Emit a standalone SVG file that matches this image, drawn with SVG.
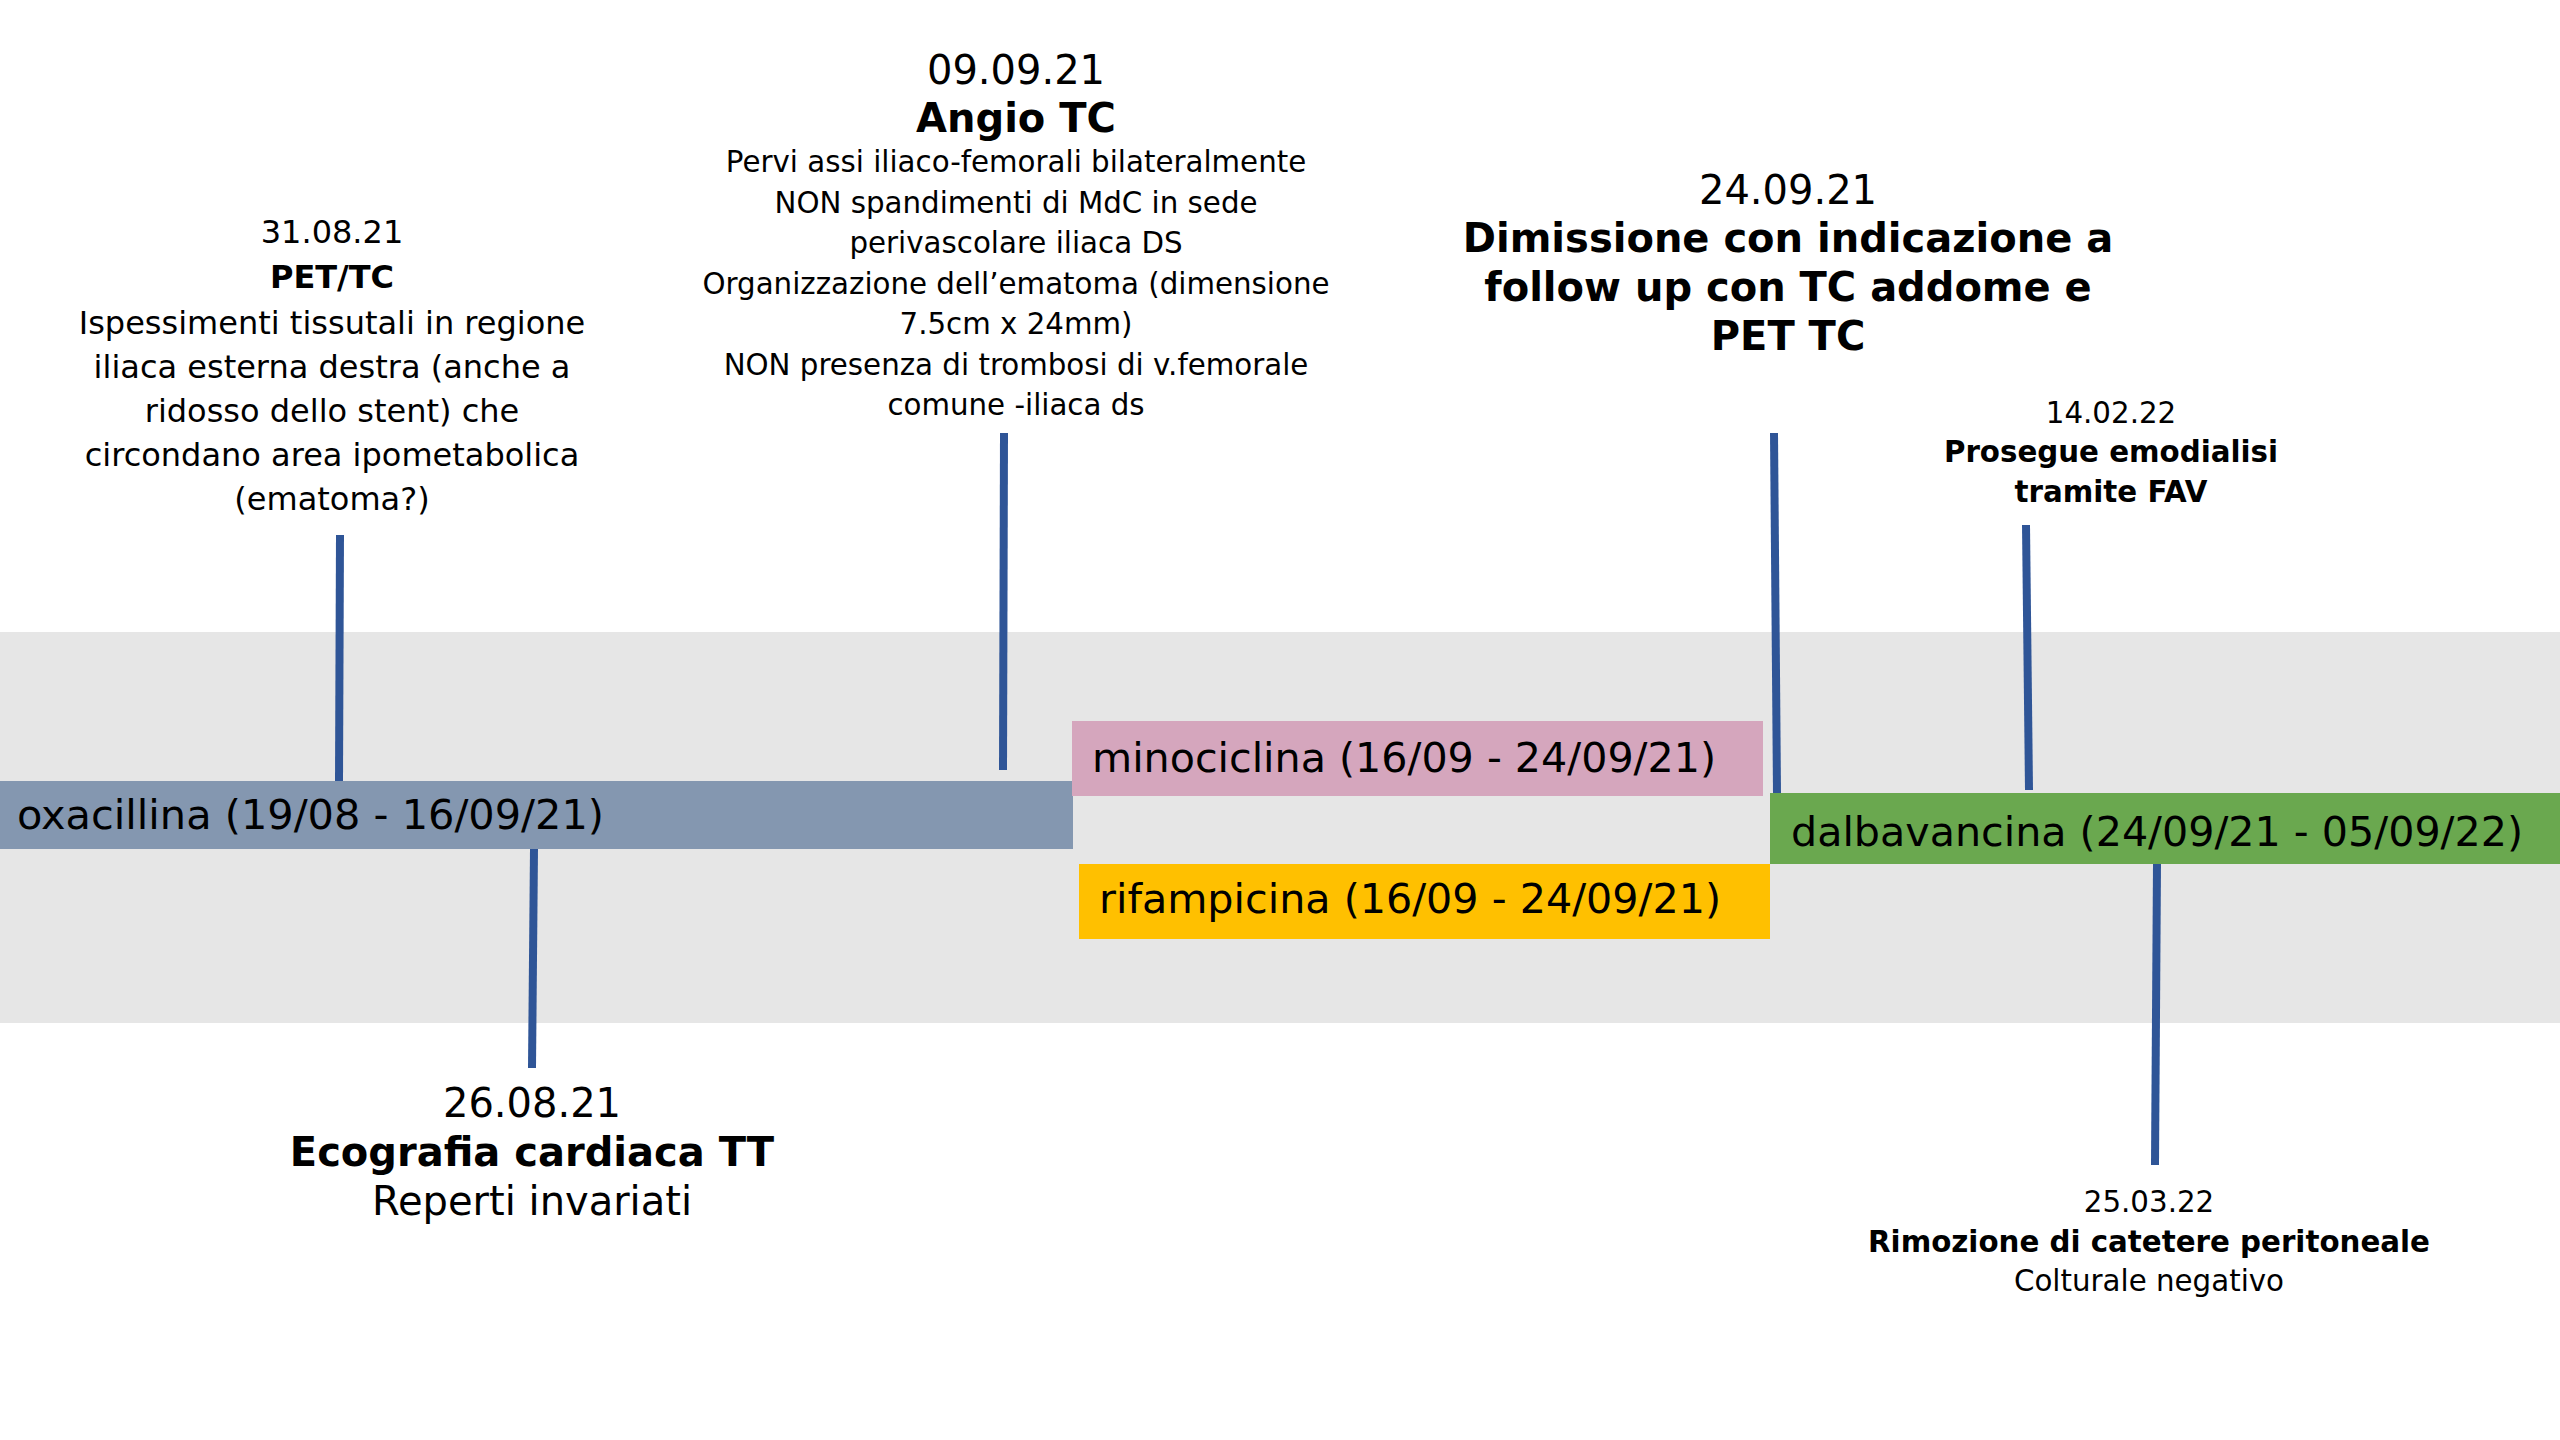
<svg xmlns="http://www.w3.org/2000/svg" width="2560" height="1440" viewBox="0 0 2560 1440">
<style>
text { font-family: "DejaVu Sans", Verdana, sans-serif; fill: #000000; }
.c { text-anchor: middle; }
.b { font-weight: bold; }
.s32 { font-size: 32px; }
.s40 { font-size: 40px; }
.s29 { font-size: 29.3px; }
.bar { font-size: 41.5px; }
.conn { stroke: #2F5597; stroke-width: 8; fill: none; }
</style>
<rect x="0" y="0" width="2560" height="1440" fill="#FFFFFF"/>
<g id="band">
<rect x="0" y="632" width="2560" height="391" fill="#E6E6E6"/>
</g>
<g id="connectors">
<line class="conn" x1="340" y1="535" x2="339" y2="781"/>
<line class="conn" x1="1004" y1="433" x2="1003" y2="770"/>
<line class="conn" x1="1774" y1="433" x2="1777" y2="793"/>
<line class="conn" x1="2026" y1="525" x2="2029" y2="790"/>
<line class="conn" x1="534" y1="849" x2="532" y2="1068"/>
<line class="conn" x1="2157" y1="864" x2="2155" y2="1165"/>
</g>
<g id="oxacillina">
<rect x="0" y="781" width="1073" height="68" fill="#8497B0"/>
<text class="bar" x="17" y="829" textLength="587" lengthAdjust="spacingAndGlyphs">oxacillina (19/08 - 16/09/21)</text>
</g>
<g id="minociclina">
<rect x="1072" y="721" width="691" height="75" fill="#D5A6BD"/>
<text class="bar" x="1092" y="772" textLength="624" lengthAdjust="spacingAndGlyphs">minociclina (16/09 - 24/09/21)</text>
</g>
<g id="rifampicina">
<rect x="1079" y="864" width="691" height="75" fill="#FFC000"/>
<text class="bar" x="1099" y="913" textLength="622" lengthAdjust="spacingAndGlyphs">rifampicina (16/09 - 24/09/21)</text>
</g>
<g id="dalbavancina">
<rect x="1770" y="793" width="790" height="71" fill="#6AA84F"/>
<text class="bar" x="1791" y="846" textLength="732" lengthAdjust="spacingAndGlyphs">dalbavancina (24/09/21 - 05/09/22)</text>
</g>
<g id="pet-tc">
<text class="c s32" x="332" y="243">31.08.21</text>
<text class="c s32 b" x="332" y="288">PET/TC</text>
<text class="c s32" x="332" y="333.5">Ispessimenti tissutali in regione</text>
<text class="c s32" x="332" y="377.5">iliaca esterna destra (anche a</text>
<text class="c s32" x="332" y="421.5">ridosso dello stent) che</text>
<text class="c s32" x="332" y="465.5">circondano area ipometabolica</text>
<text class="c s32" x="332" y="509.5">(ematoma?)</text>
</g>
<g id="angio-tc">
<text class="c s40" x="1016" y="84">09.09.21</text>
<text class="c s40 b" x="1016" y="132">Angio TC</text>
<text class="c s29" x="1016" y="172">Pervi assi iliaco-femorali bilateralmente</text>
<text class="c s29" x="1016" y="212.5">NON spandimenti di MdC in sede</text>
<text class="c s29" x="1016" y="253">perivascolare iliaca DS</text>
<text class="c s29" x="1016" y="293.5">Organizzazione dell’ematoma (dimensione</text>
<text class="c s29" x="1016" y="334">7.5cm x 24mm)</text>
<text class="c s29" x="1016" y="374.5">NON presenza di trombosi di v.femorale</text>
<text class="c s29" x="1016" y="415">comune -iliaca ds</text>
</g>
<g id="dimissione">
<text class="c s40" x="1788" y="204">24.09.21</text>
<text class="c s40 b" x="1788" y="252">Dimissione con indicazione a</text>
<text class="c s40 b" x="1788" y="301">follow up con TC addome e</text>
<text class="c s40 b" x="1788" y="349.5">PET TC</text>
</g>
<g id="emodialisi">
<text class="c s29" x="2111" y="422.5">14.02.22</text>
<text class="c s29 b" x="2111" y="461.5">Prosegue emodialisi</text>
<text class="c s29 b" x="2111" y="502">tramite FAV</text>
</g>
<g id="ecografia">
<text class="c s40" x="532" y="1117">26.08.21</text>
<text class="c s40 b" x="532" y="1165.5">Ecografia cardiaca TT</text>
<text class="c s40" x="532" y="1215">Reperti invariati</text>
</g>
<g id="rimozione">
<text class="c s29" x="2149" y="1211.5">25.03.22</text>
<text class="c s29 b" x="2149" y="1251.5">Rimozione di catetere peritoneale</text>
<text class="c s29" x="2149" y="1291">Colturale negativo</text>
</g>
</svg>
